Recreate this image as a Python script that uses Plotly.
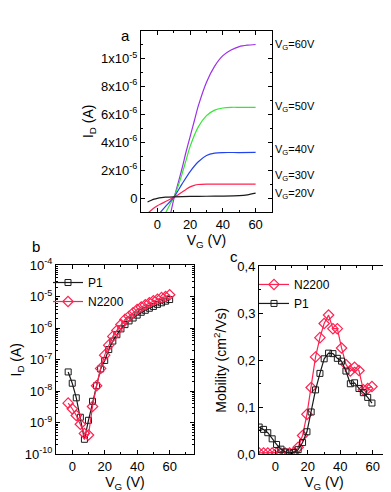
'''
Three-panel OFET figure: output-like curves (a), transfer curves (b), mobility (c).
'''

import plotly.graph_objects as go

# ---- panel a: I_D vs V_G for several gate voltages (values in 1e-6 A)
a_labels = ['V<sub>G</sub>=60V', 'V<sub>G</sub>=50V', 'V<sub>G</sub>=40V',
            'V<sub>G</sub>=30V', 'V<sub>G</sub>=20V']
a_colors = ['#9b30e8', '#33e833', '#2443f0', '#ff2250', '#1a1a1a']
a_x = [
    [8.2, 10, 12.5, 15, 17.5, 20, 22.5, 25, 30, 35, 40, 45, 50, 55, 60],
    [5.1, 7.5, 10, 12.5, 15, 17.5, 20, 25, 30, 35, 40, 45, 50, 55, 60],
    [1.6, 5, 10, 15, 20, 25, 30, 35, 40, 50, 60],
    [-6, -2.5, 0, 2.5, 5, 7.5, 10, 12.5, 15, 17.5, 20, 22.5, 25, 30, 40, 50, 60],
    [-6, -4, -2, 0, 2.5, 5, 10, 20, 30, 40, 50, 55, 60],
]
a_y = [
    [-1.05, -0.1, 1.0, 2.1, 3.3, 4.4, 5.5, 6.6, 8.3, 9.45, 10.2, 10.6, 10.85, 10.95, 11.0],
    [-1.05, -0.5, 0.05, 0.8, 1.7, 2.7, 3.7, 5.1, 5.9, 6.3, 6.45, 6.5, 6.5, 6.5, 6.5],
    [-1.05, -0.6, 0.05, 1.0, 1.9, 2.6, 3.05, 3.22, 3.26, 3.26, 3.27],
    [-1.1, -0.75, -0.55, -0.4, -0.25, -0.1, 0.05, 0.22, 0.42, 0.62, 0.8, 0.91, 0.97, 1.0, 1.0, 1.0, 1.0],
    [-0.28, -0.17, -0.08, -0.02, 0.03, 0.06, 0.09, 0.12, 0.13, 0.14, 0.17, 0.23, 0.35],
]
a_label_y = [10.97, 6.5, 3.42, 1.57, 0.28]

# ---- panel b: transfer curves (log scale)
b_vg = [-2.5, 0, 2.5, 5, 7.5, 10, 12.5, 15, 17.5, 20, 22.5, 25, 27.5, 30, 32.5,
        35, 37.5, 40, 42.5, 45, 47.5, 50, 52.5, 55, 57.5, 60]
b_p1 = [4.1e-8, 1.8e-8, 6.2e-9, 1.5e-9, 3.0e-10, 1.2e-9, 4.8e-9, 1.5e-8, 5.1e-8, 9.5e-8,
        2.1e-7, 3.9e-7, 6.2e-7, 9.5e-7, 1.3e-6, 1.7e-6, 2.1e-6, 2.6e-6, 3.2e-6, 3.7e-6,
        4.3e-6, 4.9e-6, 5.7e-6, 6.4e-6, 7.2e-6, 8.1e-6]
b_n2200 = [4.2e-9, 2.8e-9, 1.7e-9, 9.0e-10, 4.6e-10, 4.1e-10, 3.3e-9, 1.5e-8, 5.3e-8, 1.4e-7,
           2.9e-7, 5.5e-7, 8.5e-7, 1.3e-6, 1.9e-6, 2.4e-6, 3.1e-6, 3.9e-6, 4.7e-6, 5.5e-6,
           6.4e-6, 7.4e-6, 8.3e-6, 9.3e-6, 1.0e-5, 1.15e-5]

# ---- panel c: mobility (cm2/Vs)
c_vg = [-9.9, -7.2, -4.6, -1.9, 0.8, 3.5, 6.1, 8.8, 11.5, 14.1, 16.8, 19.5, 22.1, 24.8,
        27.5, 30.1, 32.8, 35.5, 38.2, 40.8, 43.5, 46.2, 48.8, 51.5, 54.2, 56.9, 59.5]
c_n2200 = [0.003, 0.003, 0.003, 0.003, 0.003, 0.003, 0.003, 0.003, 0.004, 0.015, 0.04,
           0.085, 0.142, 0.207, 0.248, 0.278, 0.296, 0.267, 0.267, 0.226, 0.191, 0.177,
           0.185, 0.178, 0.137, 0.140, 0.144]
c_p1 = [0.058, 0.053, 0.046, 0.033, 0.021, 0.011, 0.005, 0.003, 0.004, 0.010, 0.025,
        0.048, 0.090, 0.137, 0.172, 0.203, 0.215, 0.214, 0.204, 0.198, 0.177, 0.150,
        0.152, 0.140, 0.131, 0.121, 0.109]

FONT = 'Liberation Sans, Arial, sans-serif'
RED = '#ff2250'
W, H = 391, 492

def px(x): return x / W
def py(y): return 1 - y / H

fig = go.Figure()

# panel a
for xs, ys, col in zip(a_x, a_y, a_colors):
    fig.add_trace(go.Scatter(
        x = xs,
        y = [v * 1e-6 for v in ys],
        mode = 'lines',
        line = dict(color=col, width=1.2, shape='spline', smoothing=0.8),
        showlegend = False,
        xaxis = 'x', yaxis = 'y'
    ))

# panel b
fig.add_trace(go.Scatter(
    x = b_vg, y = b_p1, name = 'P1', mode = 'lines+markers',
    line = dict(color='#1a1a1a', width=1.2),
    marker = dict(symbol='square-open', size=6, color='#1a1a1a', line=dict(width=1)),
    xaxis = 'x2', yaxis = 'y2', legend = 'legend'
))
fig.add_trace(go.Scatter(
    x = b_vg, y = b_n2200, name = 'N2200', mode = 'lines+markers',
    line = dict(color=RED, width=1.2),
    marker = dict(symbol='diamond-open', size=8, color=RED, line=dict(width=1.2)),
    xaxis = 'x2', yaxis = 'y2', legend = 'legend'
))

# panel c
fig.add_trace(go.Scatter(
    x = c_vg, y = c_n2200, name = 'N2200', mode = 'lines+markers',
    line = dict(color=RED, width=1.2),
    marker = dict(symbol='diamond-open', size=8, color=RED, line=dict(width=1.2)),
    xaxis = 'x3', yaxis = 'y3', legend = 'legend2'
))
fig.add_trace(go.Scatter(
    x = c_vg, y = c_p1, name = 'P1', mode = 'lines+markers',
    line = dict(color='#1a1a1a', width=1.2),
    marker = dict(symbol='square-open', size=6, color='#1a1a1a', line=dict(width=1)),
    xaxis = 'x3', yaxis = 'y3', legend = 'legend2'
))

axis_style = dict(
    showline = True, linecolor = 'black', linewidth = 1, mirror = 'ticks',
    ticks = 'inside', ticklen = 4, tickcolor = 'black', showgrid = False,
    zeroline = False, tickfont = dict(size=13, family=FONT, color='black'),
)
minor_style = dict(ticks='inside', ticklen=2, tickcolor='black', showgrid=False)

fig.update_layout(
    width = W, height = H,
    margin = dict(l=0, r=0, t=0, b=0),
    paper_bgcolor = 'white', plot_bgcolor = 'white',
    font = dict(family=FONT, color='black'),
    xaxis = dict(axis_style, domain=[px(133), px(264)], anchor='y', range=[-10, 70],
                 tickvals=[0, 20, 40, 60], minor=dict(minor_style, dtick=10),
                 title=dict(text='V<sub>G</sub> (V)', font=dict(size=14), standoff=1)),
    yaxis = dict(axis_style, domain=[py(202), py(14)], anchor='x', range=[-1e-6, 1.2e-5],
                 tickvals=[0, 2e-6, 4e-6, 6e-6, 8e-6, 1e-5],
                 ticktext=['0', '2x10<sup>-6</sup>', '4x10<sup>-6</sup>', '6x10<sup>-6</sup>',
                           '8x10<sup>-6</sup>', '1x10<sup>-5</sup>'],
                 minor=dict(minor_style, dtick=1e-6, tick0=0),
                 title=dict(text='I<sub>D</sub> (A)', font=dict(size=14), standoff=4)),
    xaxis2 = dict(axis_style, domain=[px(48), px(186)], anchor='y2', range=[-10, 75],
                  tickvals=[0, 20, 40, 60], minor=dict(minor_style, dtick=10),
                  title=dict(text='V<sub>G</sub> (V)', font=dict(size=14), standoff=0)),
    yaxis2 = dict(axis_style, domain=[py(453), py(257)], anchor='x2', type='log', range=[-10, -4],
                  tickvals=[1e-10, 1e-9, 1e-8, 1e-7, 1e-6, 1e-5, 1e-4],
                  ticktext=['10<sup>-10</sup>', '10<sup>-9</sup>', '10<sup>-8</sup>', '10<sup>-7</sup>',
                            '10<sup>-6</sup>', '10<sup>-5</sup>', '10<sup>-4</sup>'],
                  minor=dict(minor_style, dtick='D1'),
                  title=dict(text='I<sub>D</sub> (A)', font=dict(size=14), standoff=4)),
    xaxis3 = dict(axis_style, domain=[px(251), px(381)], anchor='y3', range=[-10, 70],
                  tickvals=[0, 20, 40, 60], minor=dict(minor_style, dtick=10),
                  title=dict(text='V<sub>G</sub> (V)', font=dict(size=14), standoff=0)),
    yaxis3 = dict(axis_style, domain=[py(453), py(258)], anchor='x3', range=[0, 0.4],
                  tickvals=[0, 0.1, 0.2, 0.3, 0.4],
                  ticktext=['0,0', '0,1', '0,2', '0,3', '0,4'],
                  minor=dict(minor_style, dtick=0.05, tick0=0),
                  title=dict(text='Mobility (cm<sup>2</sup>/Vs)', font=dict(size=14), standoff=7)),
    legend = dict(x=px(40), y=py(260), xanchor='left', yanchor='top',
                  bgcolor='rgba(0,0,0,0)', font=dict(size=12), tracegroupgap=0,
                  itemwidth=30),
    legend2 = dict(x=px(246), y=py(262), xanchor='left', yanchor='top',
                   bgcolor='rgba(0,0,0,0)', font=dict(size=12), tracegroupgap=0,
                   itemwidth=30),
)

# curve labels of panel a
for text, yv in zip(a_labels, a_label_y):
    fig.add_annotation(
        x = px(265), xref = 'paper', xanchor = 'left',
        y = yv * 1e-6, yref = 'y', yanchor = 'middle',
        text = text, showarrow = False,
        font = dict(size=11, family=FONT, color='black')
    )

# panel letters
for letter, lx, ly in [('a', 111, 8), ('b', 22, 238), ('c', 226, 248)]:
    fig.add_annotation(
        x = px(lx), y = py(ly), xref = 'paper', yref = 'paper',
        text = letter, showarrow = False,
        font = dict(size=15, family=FONT, color='black')
    )

fig.write_html('out.html')
